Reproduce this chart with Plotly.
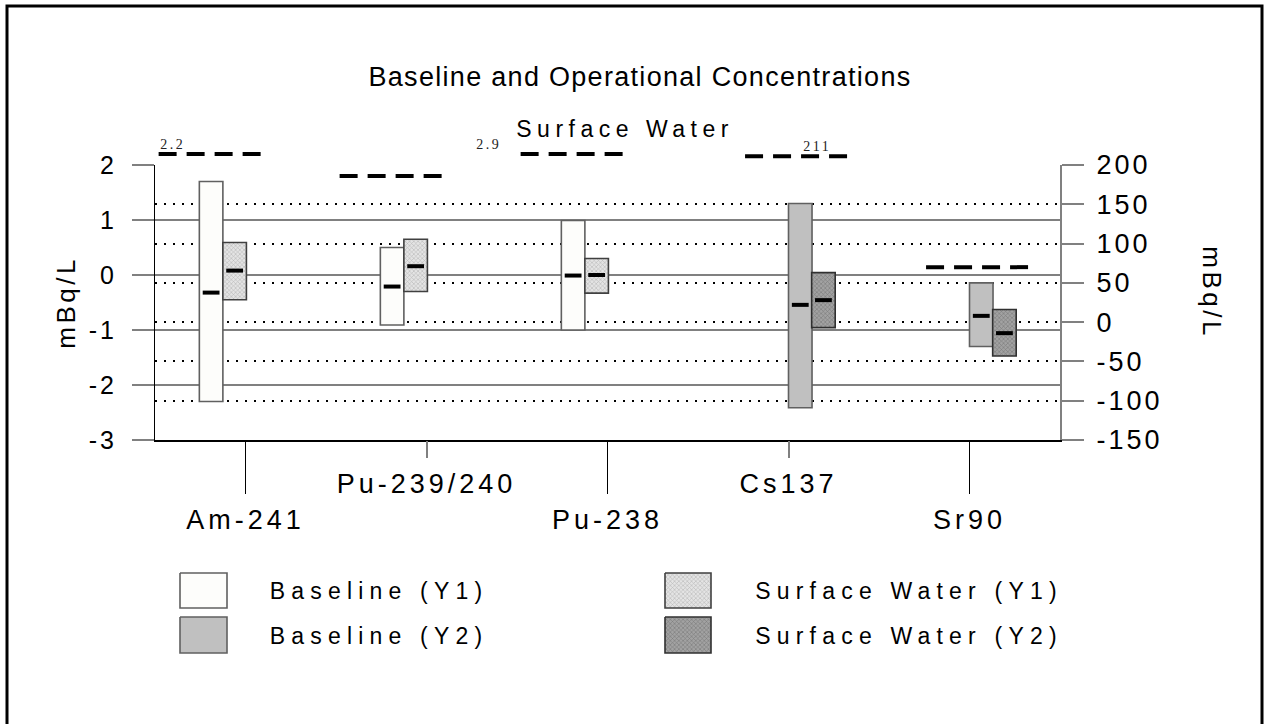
import json
import plotly.graph_objects as go

W, H = 1265, 724

# ---- data ----
categories = ["Am-241", "Pu-239/240", "Pu-238", "Cs137", "Sr90"]
y1_idx = [0, 1, 2]          # plotted against left axis
y2_idx = [3, 4]             # plotted against right axis

baseline_y1_low = [-2.30, -0.91, -1.00]
baseline_y1_high = [1.70, 0.50, 0.99]
baseline_y1_mean = [-0.32, -0.21, -0.01]

sw_y1_low = [-0.45, -0.30, -0.33]
sw_y1_high = [0.59, 0.65, 0.30]
sw_y1_mean = [0.08, 0.16, 0.00]

baseline_y2_low = [-109, -31]
baseline_y2_high = [151, 50]
baseline_y2_mean = [22, 8]

sw_y2_low = [-7, -43]
sw_y2_high = [63, 16]
sw_y2_mean = [28, -14]

limit_y1 = [2.2, 1.8, 2.9]
limit_y2 = [211, 70]

left_ticks = [-3, -2, -1, 0, 1, 2]
right_ticks = [-150, -100, -50, 0, 50, 100, 150, 200]

# ---- geometry / style ----
plot_left, plot_right = 155, 1060
plot_top, plot_bottom = 165, 440
ext_top = 125                       # room above the axes for off-scale limits
y1_range = [-3, 2]
y2_range = [-150, 200]
y1_cap, y2_cap = 2.2, 212           # off-scale limits are drawn here
BAR_W = 0.13
FONT = "Liberation Sans, Arial, sans-serif"
SERIF = "Liberation Serif, Times New Roman, serif"

styles = {
    "Baseline (Y1)": dict(color="#fdfdfb", line="#606060", off=-0.255, pattern=None),
    "Surface Water (Y1)": dict(color="#e4e4e4", line="#404040", off=-0.125,
                               pattern=dict(shape="x", fgcolor="#8a8a8a", bgcolor="#e4e4e4",
                                            size=3, solidity=0.35)),
    "Baseline (Y2)": dict(color="#c0c0c0", line="#606060", off=0.0, pattern=None),
    "Surface Water (Y2)": dict(color="#a2a2a2", line="#303030", off=0.128,
                               pattern=dict(shape="x", fgcolor="#4e4e4e", bgcolor="#a2a2a2",
                                            size=3, solidity=0.35)),
}

fig = go.Figure()


def range_bars(name, idx, low, high, mean, xa, ya):
    st = styles[name]
    marker = dict(color=st["color"], line=dict(color=st["line"], width=1.6))
    if st["pattern"]:
        marker["pattern"] = st["pattern"]
    fig.add_trace(go.Bar(
        x=idx, base=low, y=[h - l for l, h in zip(low, high)],
        offset=st["off"], width=BAR_W, marker=marker,
        xaxis=xa, yaxis=ya, name=name, showlegend=False, hoverinfo="skip"))
    fig.add_trace(go.Scatter(
        x=[i + st["off"] + BAR_W / 2 for i in idx], y=mean, mode="markers",
        marker=dict(symbol="line-ew", size=12, line=dict(width=4, color="black")),
        xaxis=xa, yaxis=ya, showlegend=False, cliponaxis=False, hoverinfo="skip"))


range_bars("Baseline (Y1)", y1_idx, baseline_y1_low, baseline_y1_high, baseline_y1_mean, "x", "y")
range_bars("Surface Water (Y1)", y1_idx, sw_y1_low, sw_y1_high, sw_y1_mean, "x", "y")
range_bars("Baseline (Y2)", y2_idx, baseline_y2_low, baseline_y2_high, baseline_y2_mean, "x2", "y2")
range_bars("Surface Water (Y2)", y2_idx, sw_y2_low, sw_y2_high, sw_y2_mean, "x2", "y2")

# limit lines (dashed), off-scale ones get a value label
annotations = []
ann_spacing = []


def add_text(text, x, y, size, spacing, xref="paper", yref="paper", font=FONT, color="black", **kw):
    annotations.append(dict(text=text, x=x, y=y, xref=xref, yref=yref, showarrow=False,
                            font=dict(family=font, size=size, color=color), **kw))
    ann_spacing.append(spacing)


limit_span = {"y3": (-0.48, 0.10), "y4": (-0.24, 0.33)}
limit_label_dx = [14, 0, -32, 72, 0]
for idx, vals, ya, top, cap in [(y1_idx, limit_y1, "y3", y1_range[1], y1_cap),
                                (y2_idx, limit_y2, "y4", y2_range[1], y2_cap)]:
    s0, s1 = limit_span[ya]
    for i, v in zip(idx, vals):
        yv = min(v, cap)
        fig.add_trace(go.Scatter(
            x=[i + s0, i + s1], y=[yv, yv], mode="lines",
            line=dict(color="black", width=4, dash="18px,10px"),
            xaxis="x3", yaxis=ya, showlegend=False, hoverinfo="skip"))
        if v > top:
            add_text(f"{v:g}", i + s0, yv, 14, 2.5, xref="x3", yref=ya, font=SERIF,
                     color="#222222", xanchor="center", yanchor="middle",
                     xshift=limit_label_dx[i], yshift=10)

# legend swatches drawn on a pixel-space overlay
legend_pos = {
    "Baseline (Y1)": (180, 227, 573, 608, 379, 591),
    "Baseline (Y2)": (180, 227, 617, 653, 379, 636),
    "Surface Water (Y1)": (665, 711, 573, 608, 909, 591),
    "Surface Water (Y2)": (665, 711, 617, 653, 909, 636),
}
for name, (x0, x1, y0, y1, tx, ty) in legend_pos.items():
    st = styles[name]
    kw = {}
    if st["pattern"]:
        kw["fillpattern"] = st["pattern"]
    fig.add_trace(go.Scatter(
        x=[x0, x1, x1, x0, x0], y=[y0, y0, y1, y1, y0], mode="lines", fill="toself",
        fillcolor=st["color"], line=dict(color=st["line"], width=1.6),
        xaxis="x5", yaxis="y5", showlegend=False, hoverinfo="skip", **kw))
    add_text(name, tx, ty, 23, 6.2, xref="x5", yref="y5", xanchor="center", yanchor="middle")

# titles and axis titles
add_text("Surface Water", 625 / W, 1 - 129 / H, 23, 5.5, xanchor="center", yanchor="middle")
add_text("mBq/L", 66 / W, 1 - 303 / H, 26, 3.5, xanchor="center", yanchor="middle", textangle=-90)
add_text("mBq/L", 1212 / W, 1 - 292 / H, 26, 3.5, xanchor="center", yanchor="middle", textangle=90)

# ---- axes ----
xdom = [plot_left / W, plot_right / W]
ydom = [(H - plot_bottom) / H, (H - plot_top) / H]
ext_dom = [(H - plot_bottom) / H, (H - ext_top) / H]
stretch = (plot_bottom - ext_top) / (plot_bottom - plot_top)
xrange = [-0.5, len(categories) - 0.5]
long_ticks = [i for i in range(len(categories)) if i % 2 == 0]
short_ticks = [i for i in range(len(categories)) if i % 2 == 1]

grid_gray = "#808080"
fig.update_layout(
    width=W, height=H, autosize=False,
    margin=dict(l=0, r=0, t=0, b=0, pad=0, autoexpand=False),
    paper_bgcolor="white", plot_bgcolor="rgba(0,0,0,0)",
    barmode="overlay",
    font=dict(family=FONT, color="black"),
    title=dict(text="Baseline and Operational Concentrations", x=640 / W, xanchor="center",
               y=1 - 77 / H, yanchor="middle", font=dict(size=27, family=FONT)),
    xaxis=dict(domain=xdom, range=xrange, anchor="y", tickmode="array",
               tickvals=long_ticks, ticktext=[categories[i] for i in long_ticks],
               ticks="outside", ticklen=52, tickwidth=1.2, tickcolor="black",
               showline=True, linecolor="black", linewidth=1.5, showgrid=False,
               zeroline=False, tickfont=dict(size=27), ticklabelstandoff=3,
               automargin=False, fixedrange=True),
    xaxis2=dict(overlaying="x", range=xrange, anchor="y2", side="bottom", tickmode="array",
                tickvals=short_ticks, ticktext=[categories[i] for i in short_ticks],
                ticks="outside", ticklen=17, tickwidth=1.5, tickcolor=grid_gray,
                showline=False, showgrid=False, zeroline=False,
                tickfont=dict(size=27), ticklabelstandoff=3, automargin=False, fixedrange=True),
    yaxis=dict(domain=ydom, range=y1_range, anchor="x", tickmode="array", tickvals=left_ticks,
               ticktext=[str(v) for v in left_ticks],
               ticks="outside", ticklen=22, tickwidth=1.5, tickcolor=grid_gray,
               showgrid=True, gridcolor=grid_gray, gridwidth=2, zeroline=False,
               showline=True, linecolor="black", linewidth=1.2,
               tickfont=dict(size=25), ticklabelstandoff=10, automargin=False, fixedrange=True),
    yaxis2=dict(overlaying="y", side="right", range=y2_range, anchor="x2", tickmode="array",
                tickvals=right_ticks, ticktext=[str(v) for v in right_ticks],
                ticks="outside", ticklen=22, tickwidth=1.5,
                tickcolor=grid_gray, showgrid=True, gridcolor="black", gridwidth=2,
                griddash="2px,7px", zeroline=False, showline=True, linecolor=grid_gray,
                linewidth=2, tickfont=dict(size=27), ticklabelstandoff=7,
                automargin=False, fixedrange=True),
    xaxis3=dict(domain=xdom, range=xrange, anchor="y3", visible=False, fixedrange=True),
    yaxis3=dict(domain=ext_dom, anchor="x3", visible=False, fixedrange=True,
                range=[y1_range[0], y1_range[0] + (y1_range[1] - y1_range[0]) * stretch]),
    yaxis4=dict(overlaying="y3", anchor="x3", visible=False, fixedrange=True,
                range=[y2_range[0], y2_range[0] + (y2_range[1] - y2_range[0]) * stretch]),
    xaxis5=dict(domain=[0, 1], range=[0, W], anchor="y5", visible=False, fixedrange=True),
    yaxis5=dict(domain=[0, 1], range=[H, 0], anchor="x5", visible=False, fixedrange=True),
    annotations=annotations,
    shapes=[dict(type="rect", xref="paper", yref="paper", x0=7 / W, x1=1262 / W,
                 y0=-0.02, y1=1 - 6 / H, line=dict(color="black", width=3))],
    showlegend=False,
)

# the original uses widely spaced lettering; plotly has no letter-spacing option
spacing = {"title": 1.3, "xtick": 4.0, "ytick": 3.0, "y2tick": 3.0, "ann": ann_spacing}
post = """
document.body.style.margin = '0';
var gd = document.getElementById('{plot_id}');
var sp = %s;
function applySpacing() {
  gd.querySelectorAll('.gtitle').forEach(function (t) { t.style.letterSpacing = sp.title + 'px'; });
  gd.querySelectorAll('.xtick text, .x2tick text').forEach(function (t) { t.style.letterSpacing = sp.xtick + 'px'; });
  gd.querySelectorAll('.ytick text').forEach(function (t) { t.style.letterSpacing = sp.ytick + 'px'; });
  gd.querySelectorAll('.y2tick text').forEach(function (t) { t.style.letterSpacing = sp.y2tick + 'px'; });
  gd.querySelectorAll('g.annotation').forEach(function (g) {
    var i = +g.getAttribute('data-index');
    var t = g.querySelector('text.annotation-text');
    if (t && sp.ann[i] !== undefined) { t.style.letterSpacing = sp.ann[i] + 'px'; }
  });
}
applySpacing();
gd.on('plotly_afterplot', applySpacing);
""" % json.dumps(spacing)

fig.write_html("out.html", post_script=post, config={"displayModeBar": False})
